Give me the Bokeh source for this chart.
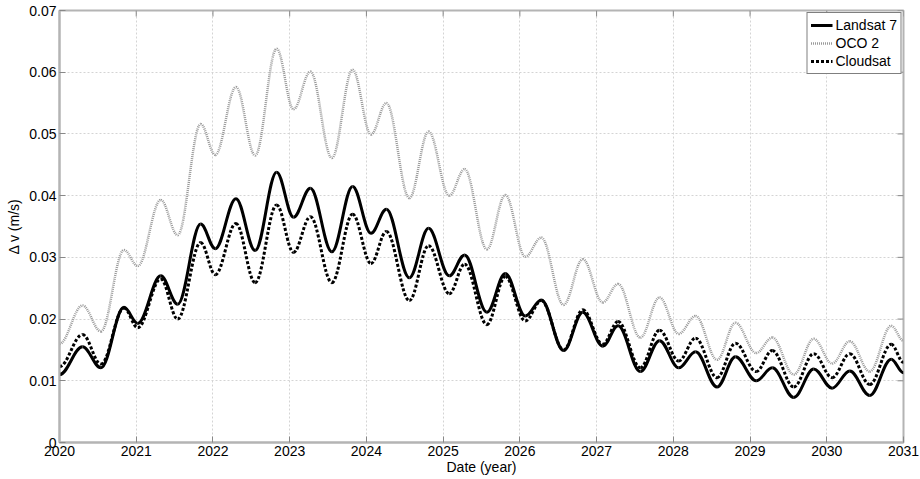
import math
from bokeh.plotting import figure
from bokeh.models import Range1d, Legend, LegendItem, FixedTicker
from bokeh.embed import file_html
from bokeh.resources import INLINE

# Extrema (shared time grid, years)
years = [2020.00, 2020.30, 2020.54, 2020.84, 2021.02, 2021.32, 2021.54, 2021.84,
         2022.03, 2022.30, 2022.55, 2022.83, 2023.05, 2023.27, 2023.55, 2023.82,
         2024.06, 2024.26, 2024.56, 2024.81, 2025.08, 2025.28, 2025.57, 2025.81,
         2026.07, 2026.28, 2026.57, 2026.82, 2027.08, 2027.28, 2027.57, 2027.82,
         2028.07, 2028.29, 2028.57, 2028.81, 2029.08, 2029.29, 2029.57, 2029.83,
         2030.07, 2030.30, 2030.56, 2030.84, 2031.00]

landsat7 = [0.0110, 0.0155, 0.0121, 0.0219, 0.0193, 0.0270, 0.0224, 0.0354,
            0.0314, 0.0395, 0.0311, 0.0438, 0.0365, 0.0412, 0.0309, 0.0415,
            0.0339, 0.0378, 0.0267, 0.0347, 0.0270, 0.0304, 0.0211, 0.0274,
            0.0205, 0.0231, 0.0149, 0.0211, 0.0156, 0.0189, 0.0115, 0.0165,
            0.0121, 0.0147, 0.0090, 0.0139, 0.0100, 0.0121, 0.0073, 0.0119,
            0.0088, 0.0116, 0.0076, 0.0135, 0.0113]

oco2 = [0.0160, 0.0222, 0.0180, 0.0312, 0.0286, 0.0393, 0.0336, 0.0516,
        0.0466, 0.0576, 0.0465, 0.0638, 0.0540, 0.0601, 0.0461, 0.0604,
        0.0499, 0.0550, 0.0396, 0.0504, 0.0400, 0.0443, 0.0313, 0.0401,
        0.0301, 0.0332, 0.0223, 0.0297, 0.0227, 0.0257, 0.0170, 0.0235,
        0.0176, 0.0205, 0.0134, 0.0194, 0.0145, 0.0170, 0.0110, 0.0168,
        0.0128, 0.0164, 0.0115, 0.0189, 0.0165]

cloudsat = [0.0123, 0.0175, 0.0127, 0.0218, 0.0186, 0.0265, 0.0200, 0.0324,
            0.0272, 0.0355, 0.0259, 0.0385, 0.0308, 0.0366, 0.0259, 0.0370,
            0.0290, 0.0342, 0.0230, 0.0319, 0.0241, 0.0289, 0.0191, 0.0269,
            0.0197, 0.0230, 0.0150, 0.0215, 0.0159, 0.0196, 0.0121, 0.0182,
            0.0132, 0.0169, 0.0105, 0.0161, 0.0115, 0.0149, 0.0090, 0.0144,
            0.0105, 0.0144, 0.0094, 0.0159, 0.0130]

x_ticks = [2020, 2021, 2022, 2023, 2024, 2025, 2026, 2027, 2028, 2029, 2030, 2031]
y_ticks = [0.0, 0.01, 0.02, 0.03, 0.04, 0.05, 0.06, 0.07]
y_tick_labels = ["0", "0.01", "0.02", "0.03", "0.04", "0.05", "0.06", "0.07"]

FONT = "Liberation Sans"
AXIS_GRAY = "#b4b4b4"
TICK_GRAY = "#888888"

p = figure(width=920, height=479,
           x_range=Range1d(2020, 2031), y_range=Range1d(0, 0.07),
           output_backend="svg", toolbar_location=None,
           min_border_left=59, min_border_right=17,
           min_border_top=10, min_border_bottom=37,
           x_axis_label="Date (year)", y_axis_label="\u0394 v (m/s)")

p.background_fill_color = "white"
p.border_fill_color = "white"
p.outline_line_color = AXIS_GRAY
p.outline_line_width = 2

for ax in (p.xaxis[0], p.yaxis[0]):
    ax.axis_line_color = AXIS_GRAY
    ax.axis_line_width = 2
    ax.major_tick_line_color = TICK_GRAY
    ax.major_tick_in = 6
    ax.major_tick_out = 0
    ax.minor_tick_line_color = None
    ax.major_label_text_font = FONT
    ax.major_label_text_font_size = "14px"
    ax.major_label_text_color = "black"
    ax.axis_label_text_font = FONT
    ax.axis_label_text_font_size = "14px"
    ax.axis_label_text_font_style = "normal"
    ax.axis_label_text_color = "black"

p.xaxis[0].ticker = FixedTicker(ticks=x_ticks)
p.yaxis[0].ticker = FixedTicker(ticks=y_ticks)
p.yaxis[0].major_label_overrides = {t: s for t, s in zip(y_ticks, y_tick_labels)}
p.xaxis[0].major_label_standoff = 3
p.xaxis[0].axis_label_standoff = 0
p.yaxis[0].major_label_standoff = 3
p.yaxis[0].axis_label_standoff = 4

for g in (p.xgrid[0], p.ygrid[0]):
    g.grid_line_color = "#d4d4d4"
    g.grid_line_dash = "2 2"
    g.grid_line_width = 1
p.xgrid[0].ticker = FixedTicker(ticks=x_ticks)
p.ygrid[0].ticker = FixedTicker(ticks=y_ticks)

# inward ticks on the top and right sides of the box
p.ray(x=x_ticks, y=[0.07] * len(x_ticks), length=6, length_units="screen",
      angle=-math.pi / 2, line_color=TICK_GRAY, line_width=1)
p.ray(x=[2031] * len(y_ticks), y=y_ticks, length=6, length_units="screen",
      angle=math.pi, line_color=TICK_GRAY, line_width=1)


def smooth(xs, ys, k=0.364):
    """Bezier pieces between consecutive read extrema (flat tangents at extrema)."""
    x0, y0, x1, y1 = xs[:-1], ys[:-1], xs[1:], ys[1:]
    cx0 = [a + k * (b - a) for a, b in zip(x0, x1)]
    cx1 = [b - k * (b - a) for a, b in zip(x0, x1)]
    return dict(x0=x0, y0=y0, x1=x1, y1=y1, cx0=cx0, cy0=y0, cx1=cx1, cy1=y1)


r_o = p.bezier(**smooth(years, oco2), line_color="#9a9a9a", line_width=2.5,
               line_dash="1 1")
r_l = p.bezier(**smooth(years, landsat7), line_color="black", line_width=3)
r_c = p.bezier(**smooth(years, cloudsat), line_color="black", line_width=3,
               line_dash="3 2")

legend = Legend(items=[LegendItem(label="Landsat 7", renderers=[r_l]),
                       LegendItem(label="OCO 2", renderers=[r_o]),
                       LegendItem(label="Cloudsat", renderers=[r_c])],
                location="top_right")
legend.label_text_font = FONT
legend.label_text_font_size = "14px"
legend.label_text_color = "black"
legend.border_line_color = "black"
legend.border_line_width = 1
legend.background_fill_color = "white"
legend.background_fill_alpha = 1
legend.margin = 2
legend.padding = 3
legend.spacing = 0
legend.glyph_width = 22
legend.glyph_height = 18
legend.label_height = 18
legend.label_standoff = 3
p.add_layout(legend)

open("out.html", "w").write(file_html(p, INLINE))
